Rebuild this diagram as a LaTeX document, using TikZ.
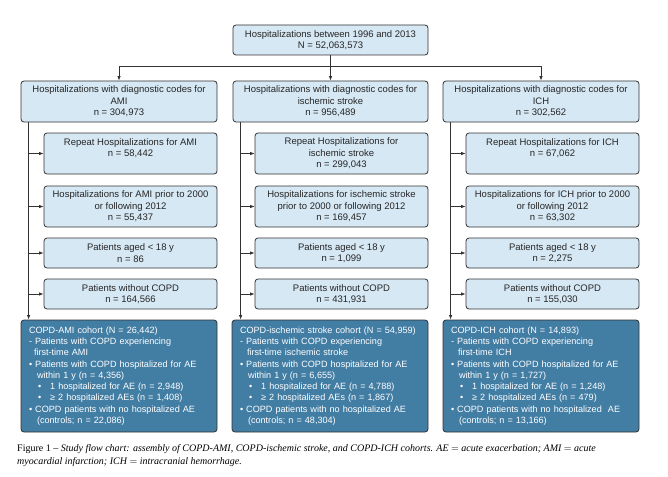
\documentclass[tikz,border=0pt]{standalone}
\usepackage{fontspec}
\setmainfont{Liberation Sans}
\newfontfamily\capfont{Liberation Serif}
\usetikzlibrary{arrows.meta}
\definecolor{boxfill}{RGB}{214,232,244}
\definecolor{cohfill}{RGB}{66,125,164}
\definecolor{linegray}{RGB}{50,50,50}
\begin{document}
\begin{tikzpicture}[x=1pt,y=-1pt,
    lbox/.style={draw=linegray, line width=0.8pt, fill=boxfill, rounded corners=3pt,
      align=center, inner sep=2pt, text=black!85, font=\fontsize{9.5}{11.4}\selectfont},
    cbox/.style={draw=linegray, line width=0.8pt, fill=cohfill, rounded corners=3pt,
      align=left, inner xsep=8pt, inner ysep=2pt, text=white, minimum width=196pt,
      minimum height=112pt, text width=180pt, font=\fontsize{9.1}{11.3}\selectfont},
    conn/.style={draw=linegray, line width=0.8pt, -{Latex[length=4.5pt,width=3.5pt]}}]
  \useasboundingbox (0,0) rectangle (668,476);

  \node[lbox, minimum width=195pt, minimum height=30pt] (total) at (330.5,40)
    {Hospitalizations between 1996 and 2013\\N = 52,063,573};

  \node[lbox, minimum width=196pt, minimum height=41pt] (ami) at (119,101.5)
    {Hospitalizations with diagnostic codes for\\AMI\\n = 304,973};
  \node[lbox, minimum width=195pt, minimum height=41pt] (isch) at (330.5,101.5)
    {Hospitalizations with diagnostic codes for\\ischemic stroke\\n = 956,489};
  \node[lbox, minimum width=196pt, minimum height=41pt] (ich) at (541,101.5)
    {Hospitalizations with diagnostic codes for\\ICH\\n = 302,562};

  \node[lbox, minimum width=173pt, minimum height=41pt] (rep-A) at (130.5,153.5)
    {Repeat Hospitalizations for AMI\\n = 58,442\\\phantom{n}};
  \node[lbox, minimum width=173pt, minimum height=41pt] (rep-B) at (341.5,153.5)
    {Repeat Hospitalizations for\\ischemic stroke\\n = 299,043};
  \node[lbox, minimum width=173pt, minimum height=41pt] (rep-C) at (552.5,153.5)
    {Repeat Hospitalizations for ICH\\n = 67,062\\\phantom{n}};

  \node[lbox, minimum width=173pt, minimum height=41pt] (pri-A) at (130.5,206.5)
    {Hospitalizations for AMI prior to 2000\\or following 2012\\n = 55,437};
  \node[lbox, minimum width=173pt, minimum height=41pt] (pri-B) at (341.5,206.5)
    {Hospitalizations for ischemic stroke\\prior to 2000 or following 2012\\n = 169,457};
  \node[lbox, minimum width=173pt, minimum height=41pt] (pri-C) at (552.5,206.5)
    {Hospitalizations for ICH prior to 2000\\or following 2012\\n = 63,302};

  \node[lbox, minimum width=173pt, minimum height=30pt] (age-A) at (130.5,253)
    {Patients aged < 18 y\\n = 86};
  \node[lbox, minimum width=173pt, minimum height=30pt] (age-B) at (341.5,253)
    {Patients aged < 18 y\\n = 1,099};
  \node[lbox, minimum width=173pt, minimum height=30pt] (age-C) at (552.5,253)
    {Patients aged < 18 y\\n = 2,275};

  \node[lbox, minimum width=173pt, minimum height=30pt] (noc-A) at (130.5,294)
    {Patients without COPD\\n = 164,566};
  \node[lbox, minimum width=173pt, minimum height=30pt] (noc-B) at (341.5,294)
    {Patients without COPD\\n = 431,931};
  \node[lbox, minimum width=173pt, minimum height=30pt] (noc-C) at (552.5,294)
    {Patients without COPD\\n = 155,030};

  \node[cbox] (coh-A) at (119,376)
    {COPD-AMI cohort (N = 26,442)\\
     - Patients with COPD experiencing\\
     \hspace*{5pt}first-time AMI\\
     \textbullet\ Patients with COPD hospitalized for AE\\
     \hspace*{8pt}within 1 y (n = 4,356)\\
     \hspace*{9pt}\textbullet\hspace{9pt}1 hospitalized for AE (n = 2,948)\\
     \hspace*{9pt}\textbullet\hspace{9pt}≥ 2 hospitalized AEs (n = 1,408)\\
     \textbullet\ COPD patients with no hospitalized AE\\
     \hspace*{8pt}(controls; n = 22,086)};
  \node[cbox] (coh-B) at (330,376)
    {COPD-ischemic stroke cohort (N = 54,959)\\
     - Patients with COPD experiencing\\
     \hspace*{7pt}first-time ischemic stroke\\
     \textbullet\ Patients with COPD hospitalized for AE\\
     \hspace*{8pt}within 1 y (n = 6,655)\\
     \hspace*{9pt}\textbullet\hspace{9pt}1 hospitalized for AE (n = 4,788)\\
     \hspace*{9pt}\textbullet\hspace{9pt}≥ 2 hospitalized AEs (n = 1,867)\\
     \textbullet\ COPD patients with no hospitalized AE\\
     \hspace*{8pt}(controls; n = 48,304)};
  \node[cbox] (coh-C) at (541,376)
    {COPD-ICH cohort (N = 14,893)\\
     - Patients with COPD experiencing\\
     \hspace*{7pt}first-time ICH\\
     \textbullet\ Patients with COPD hospitalized for AE\\
     \hspace*{8pt}within 1 y (n = 1,727)\\
     \hspace*{9pt}\textbullet\hspace{9pt}1 hospitalized for AE (n = 1,248)\\
     \hspace*{9pt}\textbullet\hspace{9pt}≥ 2 hospitalized AEs (n = 479)\\
     \textbullet\ COPD patients with no hospitalized\ \ AE\\
     \hspace*{8pt}(controls; n = 13,166)};

  \draw[conn] (total.south) -- (isch.north);
  \draw[conn] (total.south) -- ++(0,11) -| (ami.north);
  \draw[conn] (total.south) -- ++(0,11) -| (ich.north);

  \foreach \c/\lvl in {A/ami,B/isch,C/ich} {
    \coordinate (trunk-\c) at ([xshift=8pt]\lvl.south west);
    \draw[conn] (trunk-\c) -- (trunk-\c |- coh-\c.north);
    \foreach \r in {rep,pri,age,noc}
      \draw[conn] (trunk-\c |- \r-\c.west) -- (\r-\c.west);
  }

  \node[anchor=base west, inner sep=0pt, font=\capfont\fontsize{10}{13}\selectfont]
    (caption) at (17,451)
    {Figure 1 – \textit{Study flow chart: assembly of COPD-AMI, COPD-ischemic stroke, and COPD-ICH cohorts. AE $=$ acute exacerbation; AMI $=$ acute}};
  \node[anchor=base west, inner sep=0pt, font=\capfont\fontsize{10}{13}\selectfont]
    (caption2) at (17,464)
    {\textit{myocardial infarction; ICH $=$ intracranial hemorrhage.}};
\end{tikzpicture}
\end{document}
